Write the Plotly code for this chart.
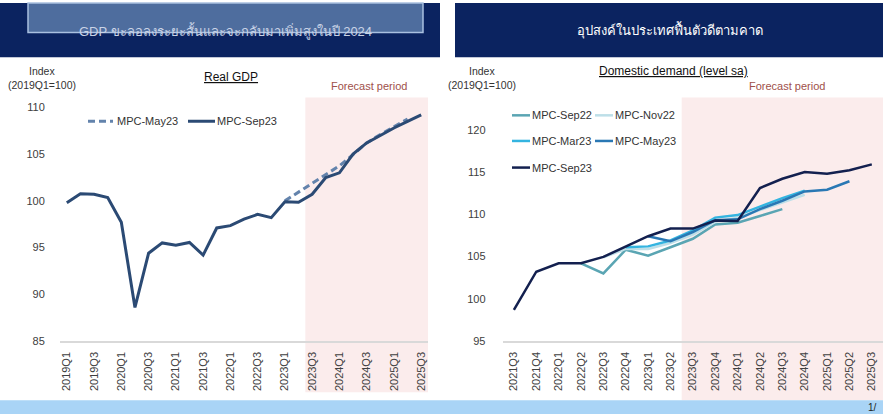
import plotly.graph_objects as go

# ---------------- data ----------------
gdp_quarters = ["2019Q1", "2019Q2", "2019Q3", "2019Q4", "2020Q1", "2020Q2", "2020Q3", "2020Q4",
                "2021Q1", "2021Q2", "2021Q3", "2021Q4", "2022Q1", "2022Q2", "2022Q3", "2022Q4",
                "2023Q1", "2023Q2", "2023Q3", "2023Q4", "2024Q1", "2024Q2", "2024Q3", "2024Q4",
                "2025Q1", "2025Q2", "2025Q3"]
gdp_tick_labels = ["2019Q1", "2019Q3", "2020Q1", "2020Q3", "2021Q1", "2021Q3", "2022Q1",
                   "2022Q3", "2023Q1", "2023Q3", "2024Q1", "2024Q3", "2025Q1", "2025Q3"]
gdp_sep23 = [99.8, 100.75, 100.7, 100.35, 97.7, 88.6, 94.4, 95.5, 95.25, 95.55, 94.2, 97.1,
             97.35, 98.05, 98.55, 98.2, 99.9, 99.85, 100.7, 102.5, 103.0, 105.0, 106.2, 107.0,
             107.8, 108.5, 109.2]
gdp_may23 = [None] * 16 + [100.0, 100.95, 101.9, 102.8, 103.75, 104.95, 106.2, 107.1, 107.9, 108.75, None]

dd_quarters = ["2021Q3", "2021Q4", "2022Q1", "2022Q2", "2022Q3", "2022Q4", "2023Q1", "2023Q2",
               "2023Q3", "2023Q4", "2024Q1", "2024Q2", "2024Q3", "2024Q4", "2025Q1", "2025Q2",
               "2025Q3"]
dd_sep22 = [None, None, None, 104.2, 103.0, 105.8, 105.1, 106.1, 107.1, 108.8, 109.0, 109.8,
            110.6, None, None, None, None]
dd_nov22 = [None, None, None, None, 104.9, 105.9, 105.9, 106.6, 107.6, 109.1, 109.6, 110.5,
            111.4, 112.3, None, None, None]
dd_mar23 = [None, None, None, None, None, 106.1, 106.2, 106.9, 108.1, 109.6, 109.9, 110.9,
            111.9, 112.8, None, None, None]
dd_may23 = [None, None, None, None, None, None, 107.4, 106.8, 107.9, 109.3, 109.4, 110.6,
            111.6, 112.7, 112.9, 113.9, None]
dd_sep23 = [98.7, 103.2, 104.2, 104.2, 104.95, 106.15, 107.4, 108.3, 108.3, 109.25, 109.2,
            113.1, 114.2, 115.0, 114.8, 115.2, 115.9]

# ---------------- styles ----------------
W, H = 883, 420
FONT = "Liberation Sans, Noto Sans, DejaVu Sans, sans-serif"
NAVY = "#0b2360"
C_GDP_SEP23 = "#2b4a74"
C_GDP_MAY23 = "#6383ac"
C_SEP22 = "#5aa5b3"
C_NOV22 = "#bddfe8"
C_MAR23 = "#34b4e0"
C_MAY23 = "#2a78b4"
C_SEP23 = "#13204f"
SHADE = "#fbecec"
TICK_C = "#404040"


def px_x(v):
    return v / W


def px_y(v):
    return 1 - v / H


fig = go.Figure()

# left chart traces
fig.add_trace(go.Scatter(x=gdp_quarters, y=gdp_may23, mode="lines", xaxis="x", yaxis="y",
                         line=dict(color=C_GDP_MAY23, width=3, dash="7px,4px"), showlegend=False))
fig.add_trace(go.Scatter(x=gdp_quarters, y=gdp_sep23, mode="lines", xaxis="x", yaxis="y",
                         line=dict(color=C_GDP_SEP23, width=3), showlegend=False))

# right chart traces
for vals, col, w in [(dd_sep22, C_SEP22, 2.5), (dd_nov22, C_NOV22, 2.5), (dd_mar23, C_MAR23, 2.5),
                     (dd_may23, C_MAY23, 2.5), (dd_sep23, C_SEP23, 2.5)]:
    fig.add_trace(go.Scatter(x=dd_quarters, y=vals, mode="lines", xaxis="x2", yaxis="y2",
                             line=dict(color=col, width=w), showlegend=False))

ydom = [px_y(346), px_y(99)]
fig.update_layout(
    width=W, height=H, margin=dict(l=0, r=0, t=0, b=0),
    paper_bgcolor="white", plot_bgcolor="rgba(0,0,0,0)",
    font=dict(family=FONT, color=TICK_C),
    xaxis=dict(domain=[px_x(60), px_x(428)], type="category", categoryorder="array",
               categoryarray=gdp_quarters, range=[-0.5, 26.5],
               tickmode="array", tickvals=gdp_tick_labels, ticktext=gdp_tick_labels,
               tickangle=-90, tickfont=dict(size=11, color=TICK_C),
               ticks="outside", ticklen=5, tickcolor="rgba(0,0,0,0)",
               showline=True, linecolor="#d9d9d9", linewidth=1.5, showgrid=False, zeroline=False,
               anchor="y"),
    yaxis=dict(domain=ydom, range=[85, 111.05], tickvals=[85, 90, 95, 100, 105, 110],
               tickfont=dict(size=11, color=TICK_C), ticks="outside", ticklen=12,
               tickcolor="rgba(0,0,0,0)", showgrid=False, zeroline=False, showline=False,
               anchor="x"),
    xaxis2=dict(domain=[px_x(502.7), 1.0], type="category", categoryorder="array",
                categoryarray=dd_quarters, range=[-0.5, 16.5],
                tickmode="array", tickvals=dd_quarters, ticktext=dd_quarters,
                tickangle=-90, tickfont=dict(size=11, color=TICK_C),
                ticks="outside", ticklen=5, tickcolor="rgba(0,0,0,0)",
                showline=True, linecolor="#d9d9d9", linewidth=1.5, showgrid=False, zeroline=False,
                anchor="y2"),
    yaxis2=dict(domain=ydom, range=[95, 123.8], tickvals=[95, 100, 105, 110, 115, 120],
                tickfont=dict(size=11, color=TICK_C), ticks="outside", ticklen=14,
                tickcolor="rgba(0,0,0,0)", showgrid=False, zeroline=False, showline=False,
                anchor="x2"),
)

shapes = []
# forecast shading (data x, paper y)
shapes.append(dict(type="rect", xref="x", yref="paper", x0=17.5, x1=26.5,
                   y0=px_y(398), y1=px_y(99), fillcolor=SHADE, line=dict(width=0), layer="below"))
shapes.append(dict(type="rect", xref="x2", yref="paper", x0=7.5, x1=16.5,
                   y0=px_y(406), y1=px_y(99), fillcolor=SHADE, line=dict(width=0), layer="below"))
# banners
shapes.append(dict(type="rect", xref="paper", yref="paper", x0=0, x1=px_x(440),
                   y0=px_y(58), y1=px_y(3), fillcolor=NAVY, line=dict(width=0), layer="below"))
shapes.append(dict(type="rect", xref="paper", yref="paper", x0=px_x(28), x1=px_x(423),
                   y0=px_y(33), y1=px_y(3), fillcolor="#4e6d9e", line=dict(color="#a9c0e0", width=1.5),
                   layer="below"))
shapes.append(dict(type="rect", xref="paper", yref="paper", x0=px_x(455), x1=1,
                   y0=px_y(58), y1=px_y(3), fillcolor=NAVY, line=dict(width=0), layer="below"))
# bottom bar
shapes.append(dict(type="rect", xref="paper", yref="paper", x0=0, x1=1,
                   y0=0, y1=px_y(406), fillcolor="#a9d4f6", line=dict(width=0), layer="below"))

# legend samples (left)
shapes.append(dict(type="line", xref="paper", yref="paper", x0=px_x(88), x1=px_x(113),
                   y0=px_y(123), y1=px_y(123), line=dict(color=C_GDP_MAY23, width=3, dash="7px,4px")))
shapes.append(dict(type="line", xref="paper", yref="paper", x0=px_x(188), x1=px_x(215),
                   y0=px_y(123), y1=px_y(123), line=dict(color=C_GDP_SEP23, width=3)))
# legend samples (right)
leg_right = [(512, 117, C_SEP22), (595, 117, C_NOV22), (512, 143, C_MAR23), (595, 143, C_MAY23),
             (512, 170, C_SEP23)]
for lx, ly, col in leg_right:
    shapes.append(dict(type="line", xref="paper", yref="paper", x0=px_x(lx), x1=px_x(lx + 18),
                       y0=px_y(ly), y1=px_y(ly), line=dict(color=col, width=2.5)))

fig.update_layout(shapes=shapes)

ann = []


def text(x, y, s, size=11, color="#333333", xanchor="center", family=FONT):
    ann.append(dict(x=px_x(x), y=px_y(y), xref="paper", yref="paper", text=s, showarrow=False,
                    xanchor=xanchor, yanchor="middle", font=dict(size=size, color=color, family=family)))


text(225, 31, "GDP ขะลอลงระยะสั้นและจะกลับมาเพิ่มสูงในปี 2024", size=13, color="#c9d3e6")
text(670, 30, "อุปสงค์ในประเทศฟื้นตัวดีตามคาด", size=13, color="white")

text(42, 72, "Index", size=10.5, color="#333333")
text(42, 86, "(2019Q1=100)", size=10.5, color="#333333")
text(231, 78, "<u>Real GDP</u>", size=12, color="#111111")
text(369, 87, "Forecast period", size=11, color="#a0504a")

text(482, 72, "Index", size=10.5, color="#333333")
text(482, 86, "(2019Q1=100)", size=10.5, color="#333333")
text(673, 72, "<u>Domestic demand (level sa)</u>", size=12, color="#111111")
text(787, 87, "Forecast period", size=11, color="#a0504a")

text(115, 123, "MPC-May23", size=11, color="#333333", xanchor="left")
text(215, 123, "MPC-Sep23", size=11, color="#333333", xanchor="left")

for (lx, ly, _), name in zip(leg_right, ["MPC-Sep22", "MPC-Nov22", "MPC-Mar23", "MPC-May23", "MPC-Sep23"]):
    text(lx + 18, ly, name, size=11, color="#333333", xanchor="left")

text(866, 413, "1/", size=10, color="#222222", xanchor="left")

fig.update_layout(annotations=ann)

fig.write_html("out.html", config={"displayModeBar": False, "staticPlot": True},
               post_script="document.body.style.margin='0';document.body.style.padding='0';"
                           "document.body.style.overflow='hidden';")
